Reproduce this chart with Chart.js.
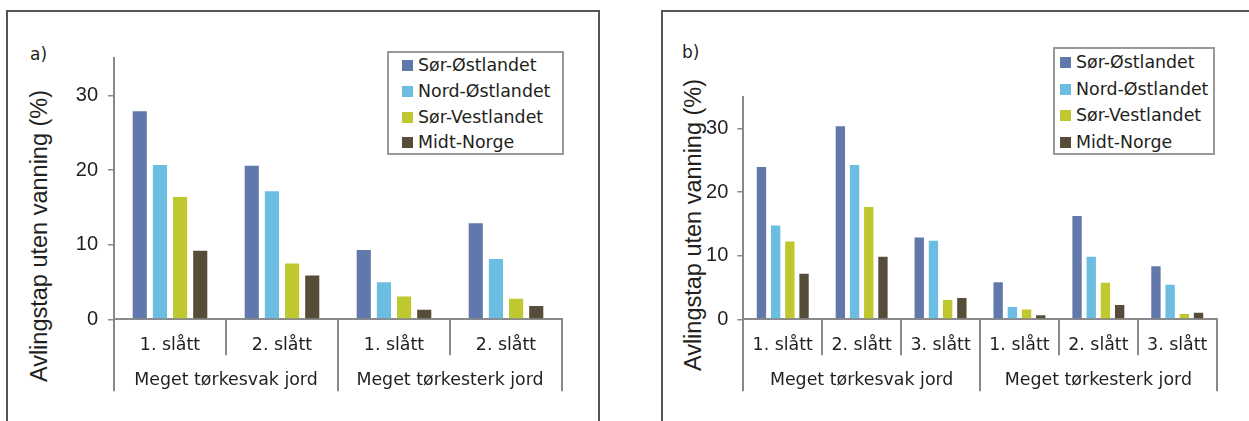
<!DOCTYPE html>
<html lang="no">
<head>
<meta charset="UTF-8">
<title>Avlingstap uten vanning</title>
<script src="https://cdn.jsdelivr.net/npm/chart.js"></script>
<style>
    body {
        margin: 0;
        width: 1249px;
        height: 421px;
        overflow: hidden;
        background: #fff;
        position: relative;
        font-family: 'DejaVu Sans', sans-serif;
        color: #231f20;
    }
    .frame {
        position: absolute;
        border: 2px solid #555;
        box-sizing: border-box;
        height: 440px;
    }
    canvas {
        position: absolute;
        top: 0;
    }
    .panel-tag {
        position: absolute;
        font-size: 17px;
        line-height: 20px;
    }
    .ytitle {
        position: absolute;
        font-family: 'Liberation Sans', Arial, sans-serif;
        font-size: 23.5px;
        white-space: nowrap;
        transform: translate(-50%, -50%) rotate(-90deg);
    }
    .legend {
        position: absolute;
        border: 2px solid #999;
        box-sizing: border-box;
        font-size: 17.4px;
    }
    .legend div {
        white-space: nowrap;
    }
    .legend span {
        display: inline-block;
        width: 11px;
        height: 11px;
        margin-right: 5px;
        vertical-align: 0px;
    }
</style>
</head>
<body>
    <div class="frame" style="left:6px; top:10px; width:594px;"></div>
    <div class="frame" style="left:661px; top:10px; width:700px;"></div>

    <div class="panel-tag" style="left:30px; top:44px;">a)</div>
    <div class="panel-tag" style="left:682px; top:42px;">b)</div>

    <div class="ytitle" style="left:39px; top:236px;">Avlingstap uten vanning (%)</div>
    <div class="ytitle" style="left:693px; top:225px;">Avlingstap uten vanning (%)</div>

    <div class="legend" id="legendA" style="left:387px; top:51px; width:177px; height:104px; padding-left:13px;"></div>
    <div class="legend" id="legendB" style="left:1053px; top:47px; width:162px; height:108px; padding-left:5px;"></div>

    <canvas id="chartA" width="620" height="421" style="left:0px;"></canvas>
    <canvas id="chartB" width="629" height="421" style="left:620px;"></canvas>

<script>
    // serier og farger
    const seriesNames = ['Sør-Østlandet', 'Nord-Østlandet', 'Sør-Vestlandet', 'Midt-Norge'];
    const seriesColors = ['#6079AA', '#6BBEE2', '#BFC82F', '#574C39'];

    // a) to slåtter
    const catsA = ['1. slått', '2. slått', '1. slått', '2. slått'];
    const groupsA = ['Meget tørkesvak jord', 'Meget tørkesterk jord'];
    const sorOstA = [28.0, 20.7, 9.4, 13.0];
    const nordOstA = [20.8, 17.3, 5.1, 8.2];
    const sorVestA = [16.5, 7.6, 3.2, 2.9];
    const midtNorgeA = [9.3, 6.0, 1.4, 1.9];

    // b) tre slåtter
    const catsB = ['1. slått', '2. slått', '3. slått', '1. slått', '2. slått', '3. slått'];
    const groupsB = ['Meget tørkesvak jord', 'Meget tørkesterk jord'];
    const sorOstB = [24.1, 30.5, 13.0, 6.0, 16.4, 8.5];
    const nordOstB = [14.9, 24.4, 12.5, 2.1, 10.0, 5.6];
    const sorVestB = [12.4, 17.8, 3.2, 1.7, 5.9, 1.0];
    const midtNorgeB = [7.3, 10.0, 3.5, 0.8, 2.4, 1.2];

    const yTicks = [0, 10, 20, 30];
    const yMax = 35;

    const textColor = '#231f20';
    const axisColor = '#898989';

    function makeDatasets(valueLists) {
        return valueLists.map((vals, i) => ({
            label: seriesNames[i],
            data: vals,
            backgroundColor: seriesColors[i],
            borderColor: 'rgba(255,255,255,0.35)',
            borderWidth: 1,
            categoryPercentage: 0.72,
            barPercentage: 0.8
        }));
    }

    function makeChart(canvasId, cats, groups, valueLists, pad, yWidth, tickPad) {
        const ctx = document.getElementById(canvasId).getContext('2d');
        return new Chart(ctx, {
            type: 'bar',
            data: {
                labels: cats,
                datasets: makeDatasets(valueLists)
            },
            options: {
                responsive: false,
                animation: false,
                devicePixelRatio: 1,
                layout: { padding: pad },
                plugins: {
                    legend: { display: false },
                    tooltip: { enabled: false }
                },
                scales: {
                    x: {
                        type: 'category',
                        position: 'bottom',
                        offset: true,
                        afterFit: s => { s.height = 36; },
                        grid: {
                            offset: true,
                            drawOnChartArea: false,
                            tickLength: 36,
                            color: axisColor,
                            lineWidth: 2
                        },
                        border: { color: axisColor, width: 2 },
                        ticks: {
                            padding: -20.7,
                            maxRotation: 0,
                            autoSkip: false,
                            color: textColor,
                            font: { family: 'DejaVu Sans', size: 17.4 }
                        }
                    },
                    x2: {
                        type: 'category',
                        position: 'bottom',
                        labels: groups,
                        offset: true,
                        afterFit: s => { s.height = 36; },
                        grid: {
                            offset: true,
                            drawOnChartArea: false,
                            tickLength: 36,
                            color: axisColor,
                            lineWidth: 2
                        },
                        border: { display: false },
                        ticks: {
                            padding: -21.7,
                            maxRotation: 0,
                            autoSkip: false,
                            color: textColor,
                            font: { family: 'DejaVu Sans', size: 17.4 }
                        }
                    },
                    y: {
                        min: 0,
                        max: yMax,
                        bounds: 'data',
                        afterFit: s => { s.width = yWidth; },
                        afterBuildTicks: s => { s.ticks = yTicks.map(v => ({ value: v })); },
                        grid: {
                            drawOnChartArea: false,
                            tickLength: 6,
                            color: axisColor,
                            lineWidth: 1.5
                        },
                        border: { color: axisColor, width: 2 },
                        ticks: {
                            padding: tickPad,
                            color: textColor,
                            font: { family: 'Liberation Sans', size: 20 }
                        }
                    }
                }
            }
        });
    }

    makeChart('chartA', catsA, groupsA, [sorOstA, nordOstA, sorVestA, midtNorgeA],
        { left: 60, top: 58, right: 58, bottom: 29.7 }, 54, 10);
    makeChart('chartB', catsB, groupsB, [sorOstB, nordOstB, sorVestB, midtNorgeB],
        { left: 60, top: 96.7, right: 32.3, bottom: 29.7 }, 63.3, 9);

    // legender
    function fillLegend(id, rowHeight) {
        const box = document.getElementById(id);
        seriesNames.forEach((name, i) => {
            const row = document.createElement('div');
            row.style.height = rowHeight + 'px';
            row.style.lineHeight = rowHeight + 'px';
            row.innerHTML = '<span style="background:' + seriesColors[i] + '"></span>' + name;
            box.appendChild(row);
        });
    }
    fillLegend('legendA', 25.8);
    fillLegend('legendB', 26.7);
</script>
</body>
</html>
